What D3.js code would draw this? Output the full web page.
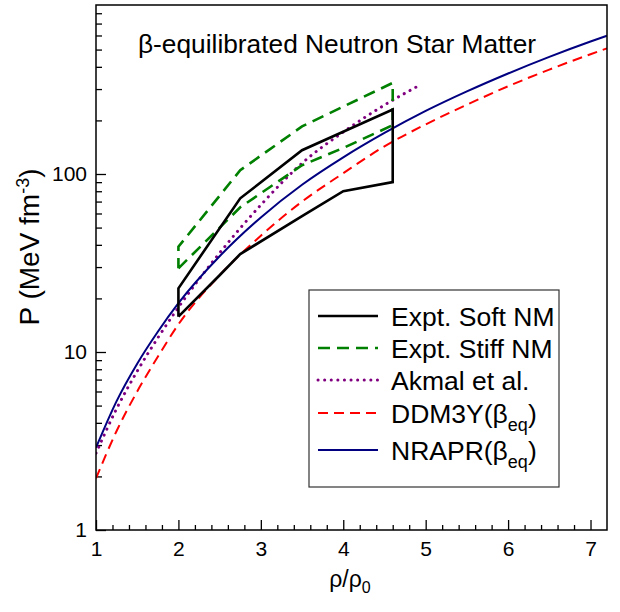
<!DOCTYPE html>
<html>
<head>
<meta charset="utf-8">
<script src="https://cdn.jsdelivr.net/npm/d3@7"></script>
<style>
  body { margin: 0; background: #fff; }
  text { font-family: "Liberation Sans", Arial, sans-serif; fill: #000; }
</style>
</head>
<body>
<div class="chart"></div>
<script>
const WIDTH = 620;
const HEIGHT = 612;

const LEFT = 96, RIGHT = 607, TOP = 5, BOTTOM = 530;

// curves, P in MeV fm^-3 vs rho/rho0
var densities = [1, 1.25, 1.5, 1.75, 2, 2.5, 3, 3.5, 4, 4.5, 5, 5.5, 6, 6.5, 7, 7.2];
var nraprP   = [2.9, 5.3, 8.6, 13.0, 18.8, 34.5, 57, 87, 124, 170, 226, 291, 367, 455, 555, 598];
var ddm3yP   = [1.95, 3.6, 6.0, 9.4, 14.3, 27, 45, 70, 101, 143, 190, 245, 311, 386, 471, 508];

var akmalDensities = [1, 1.25, 1.5, 1.75, 2, 2.5, 3, 3.5, 4, 4.5, 4.93];
var akmalP         = [2.7, 4.8, 7.8, 12, 17.8, 36, 67, 115, 172, 244, 316];

// experimental flow regions (closed outlines)
var softDensities = [2, 2.5, 2.75, 3.5, 4.0, 4.6, 4.6, 3.5, 2.75, 2, 2];
var softP         = [15.8, 27, 35.5, 58, 80, 90, 230, 136, 73, 22.8, 15.8];
var stiffDensities = [2, 2.75, 3.5, 4.0, 4.6, 4.6, 3.5, 2.75, 2, 2];
var stiffP         = [29.5, 65, 112, 140, 188, 325, 185, 105, 39, 29.5];

var xTicks = [1, 2, 3, 4, 5, 6, 7];
var yTicks = [1, 10, 100];

var legendLabels = ["Expt. Soft NM", "Expt. Stiff NM", "Akmal et al.", "DDM3Y", "NRAPR"];

var translate = function (x, y) {
    return "translate(" + x + "," + y + ")";
};

var svg = d3.select('.chart').append('svg')
    .attr('width', WIDTH)
    .attr('height', HEIGHT);

var xScale = d3.scaleLinear().domain([1, 7.2]).range([LEFT, RIGHT]);
var yScale = d3.scaleLog().domain([1, 890]).range([BOTTOM, TOP]);

// axes with inward ticks
var xMinor = d3.range(1.2, 7.2, 0.2).filter(function (v) { return Math.abs(v - Math.round(v)) > 0.01; });
svg.append('g').attr('transform', translate(0, BOTTOM))
    .call(d3.axisBottom(xScale).tickValues(xMinor).tickSize(-5).tickFormat(''))
    .call(function (g) { g.select('.domain').remove(); });
svg.append('g').attr('transform', translate(0, BOTTOM))
    .call(d3.axisBottom(xScale).tickValues(xTicks).tickSize(-10).tickPadding(11).tickFormat(d3.format('d')))
    .call(function (g) {
        g.select('.domain').remove();
        g.selectAll('text').attr('font-size', 21).attr('dy', '0.71em');
    });

var yMinor = [];
[1, 10, 100].forEach(function (d) {
    for (var k = 2; k <= 9; k++) if (d * k < 890) yMinor.push(d * k);
});
svg.append('g').attr('transform', translate(LEFT, 0))
    .call(d3.axisLeft(yScale).tickValues(yMinor).tickSize(-6).tickFormat(''))
    .call(function (g) { g.select('.domain').remove(); });
svg.append('g').attr('transform', translate(LEFT, 0))
    .call(d3.axisLeft(yScale).tickValues(yTicks).tickSize(-10).tickPadding(9).tickFormat(d3.format('d')))
    .call(function (g) {
        g.select('.domain').remove();
        g.selectAll('text').attr('font-size', 21);
    });

svg.selectAll('.tick line').attr('stroke', '#000').attr('stroke-width', 1.3);
svg.selectAll('.tick text').attr('fill', '#000').attr('font-family', '"Liberation Sans", Arial, sans-serif');

// curves
svg.append('clipPath').attr('id', 'plot')
    .append('rect').attr('x', LEFT).attr('y', TOP)
    .attr('width', RIGHT - LEFT).attr('height', BOTTOM - TOP);

var line = d3.line()
    .x(function (d) { return xScale(d[0]); })
    .y(function (d) { return yScale(d[1]); });
var smooth = d3.line()
    .x(function (d) { return xScale(d[0]); })
    .y(function (d) { return yScale(d[1]); })
    .curve(d3.curveMonotoneX);

var plot = svg.append('g').attr('clip-path', 'url(#plot)');

var styles = [
    { color: '#000000', width: 2.6, dash: null, cap: 'butt' },
    { color: '#008000', width: 2.6, dash: '12,7', cap: 'butt' },
    { color: '#800080', width: 3, dash: '0.1,6.5', cap: 'round' },
    { color: '#ff0000', width: 2, dash: '10,6', cap: 'butt' },
    { color: '#000080', width: 2, dash: null, cap: 'butt' }
];

var applyStyle = function (sel, s) {
    sel.attr('fill', 'none')
        .attr('stroke', s.color)
        .attr('stroke-width', s.width)
        .attr('stroke-dasharray', s.dash)
        .attr('stroke-linecap', s.cap)
        .attr('stroke-linejoin', 'miter');
};

plot.append('path').attr('d', smooth(d3.zip(densities, ddm3yP))).call(applyStyle, styles[3]);
plot.append('path').attr('d', smooth(d3.zip(akmalDensities, akmalP))).call(applyStyle, styles[2]);
plot.append('path').attr('d', smooth(d3.zip(densities, nraprP))).call(applyStyle, styles[4]);
plot.append('path').attr('d', line(d3.zip(stiffDensities, stiffP))).call(applyStyle, styles[1]);
plot.append('path').attr('d', line(d3.zip(softDensities, softP))).call(applyStyle, styles[0]);

// frame
svg.append('rect')
    .attr('x', LEFT).attr('y', TOP)
    .attr('width', RIGHT - LEFT).attr('height', BOTTOM - TOP)
    .attr('fill', 'none').attr('stroke', '#000').attr('stroke-width', 1.5);

// title
svg.append('text')
    .attr('x', 337).attr('y', 53)
    .attr('text-anchor', 'middle')
    .attr('font-size', 26.3)
    .text('β-equilibrated Neutron Star Matter');

// axis titles
var yt = svg.append('text')
    .attr('transform', translate(39, 247) + ' rotate(-90)')
    .attr('text-anchor', 'middle')
    .attr('font-size', 28);
yt.append('tspan').text('P (MeV fm');
yt.append('tspan').attr('font-size', 18).attr('dy', -10).text('-3');
yt.append('tspan').attr('dy', 10).text(')');

var xt = svg.append('text')
    .attr('x', 350).attr('y', 587)
    .attr('text-anchor', 'middle')
    .attr('font-size', 23);
xt.append('tspan').text('ρ/ρ');
xt.append('tspan').attr('font-size', 16).attr('dy', 6).text('0');

// legend
svg.append('rect')
    .attr('x', 309).attr('y', 290)
    .attr('width', 250).attr('height', 197)
    .attr('fill', '#fff').attr('stroke', '#333').attr('stroke-width', 1.2);

var legendY = [316, 348, 380, 413, 450];
legendLabels.forEach(function (label, i) {
    var yy = legendY[i];
    svg.append('line')
        .attr('x1', 318).attr('x2', 378)
        .attr('y1', yy).attr('y2', yy)
        .call(applyStyle, styles[i]);
    var t = svg.append('text')
        .attr('x', 391).attr('y', yy + 9.5)
        .attr('font-size', 26.5);
    t.append('tspan').text(label);
    if (i >= 3) {
        t.append('tspan').text('(β');
        t.append('tspan').attr('font-size', 18).attr('dy', 8).text('eq');
        t.append('tspan').attr('dy', -8).text(')');
    }
});
</script>
</body>
</html>
